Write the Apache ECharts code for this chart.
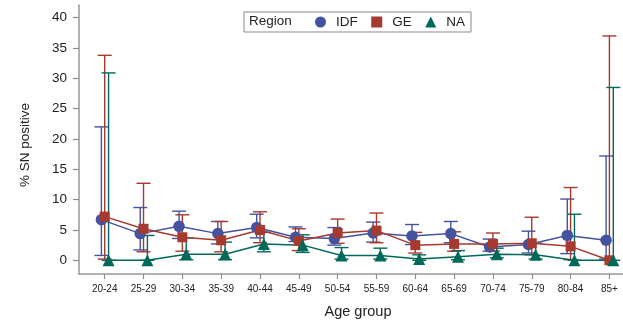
<!DOCTYPE html>
<html>
<head>
<meta charset="utf-8">
<script src="https://cdn.jsdelivr.net/npm/echarts@6/dist/echarts.min.js"></script>
<style>
  html, body { margin: 0; padding: 0; background: #fff; }
  #main { width: 623px; height: 322px; }
</style>
</head>
<body>
<div id="main"></div>
<script>
// age groups on the x axis
const ageGroups = ['20-24', '25-29', '30-34', '35-39', '40-44', '45-49', '50-54',
                   '55-59', '60-64', '65-69', '70-74', '75-79', '80-84', '85+'];
const yTicks = [0, 5, 10, 15, 20, 25, 30, 35, 40];

// % SN positive with 95% CI, per region
const idfPct  = [6.7, 4.4, 5.6, 4.4, 5.4, 3.8, 3.6, 4.5, 4.0, 4.4, 2.2, 2.6, 4.1, 3.3];
const idfLow  = [0.8, 1.7, 3.6, 2.7, 3.7, 3.1, 2.5, 3.0, 2.6, 2.9, 1.5, 1.2, 1.1, 0.2];
const idfHigh = [22.0, 8.7, 8.1, 6.4, 7.6, 5.5, 5.4, 6.3, 5.9, 6.4, 3.5, 4.8, 10.1, 17.2];

const gePct  = [7.2, 5.2, 3.8, 3.3, 5.0, 3.2, 4.5, 4.9, 2.5, 2.7, 2.7, 2.8, 2.3, 0.0];
const geLow  = [0.2, 1.4, 1.5, 1.4, 2.9, 1.6, 2.8, 2.9, 1.2, 1.5, 1.5, 0.9, 0.1, 0.0];
const geHigh = [33.8, 12.7, 7.5, 6.4, 8.0, 5.2, 6.8, 7.8, 4.6, 4.7, 4.5, 7.1, 12.0, 37.0];

const naPct  = [0.0, 0.0, 1.0, 1.0, 2.7, 2.5, 0.8, 0.8, 0.2, 0.6, 1.0, 0.9, 0.0, 0.0];
const naLow  = [0.0, 0.0, 0.1, 0.1, 1.4, 1.3, 0.2, 0.2, 0.0, 0.1, 0.4, 0.2, 0.0, 0.0];
const naHigh = [30.9, 4.1, 3.7, 3.0, 4.6, 4.2, 2.1, 2.0, 0.9, 1.6, 2.0, 2.8, 7.6, 28.5];

const FONT = 'Liberation Sans, Arial, sans-serif';

const regions = [
  { name: 'IDF', color: '#44539f', symbol: 'circle',   size: 11.5, dx: -0.085, pct: idfPct, low: idfLow, high: idfHigh },
  { name: 'GE',  color: '#a63a2e', symbol: 'rect',     size: 10,   dx: 0,      pct: gePct,  low: geLow,  high: geHigh },
  { name: 'NA',  color: '#00695a', symbol: 'triangle', size: 12,   dx: 0.1,    pct: naPct,  low: naLow,  high: naHigh }
];

// error bars: vertical line with caps
function errorBar(color) {
  return function (params, api) {
    const top = api.coord([api.value(0), api.value(2)]);
    const bot = api.coord([api.value(0), api.value(1)]);
    const hw = 7;
    const style = { stroke: color, lineWidth: 1.4 };
    return {
      type: 'group',
      children: [
        { type: 'line', shape: { x1: top[0], y1: top[1], x2: bot[0], y2: bot[1] }, style: style },
        { type: 'line', shape: { x1: top[0] - hw, y1: top[1], x2: top[0] + hw, y2: top[1] }, style: style },
        { type: 'line', shape: { x1: bot[0] - hw, y1: bot[1], x2: bot[0] + hw, y2: bot[1] }, style: style }
      ]
    };
  };
}

const series = [];
regions.forEach(function (r) {
  series.push({
    name: r.name + ' CI',
    type: 'custom',
    renderItem: errorBar(r.color),
    data: ageGroups.map(function (g, i) { return [i + r.dx, r.low[i], r.high[i]]; }),
    z: 2
  });
});
regions.forEach(function (r) {
  series.push({
    name: r.name,
    type: 'line',
    symbol: r.symbol,
    symbolSize: r.size,
    itemStyle: { color: r.color },
    lineStyle: { color: r.color, width: 1.5 },
    data: ageGroups.map(function (g, i) { return [i + r.dx, r.pct[i]]; }),
    z: 3
  });
});

const xTickVals = ageGroups.map(function (g, i) { return i; });

const myChart = echarts.init(document.getElementById('main'));
const option = {
  animation: false,
  textStyle: { fontFamily: FONT },
  grid: { left: 79, right: 0, top: 5, bottom: 48 },
  xAxis: {
    type: 'value',
    min: -0.662,
    max: 13.35,
    axisLine: { show: true, onZero: false, lineStyle: { color: '#999', width: 1.5 } },
    axisTick: { show: true, length: 5, lineStyle: { color: '#8c8c8c', width: 1.2 }, customValues: xTickVals },
    axisLabel: {
      color: '#222', fontSize: 10, margin: 10,
      customValues: xTickVals,
      formatter: function (v) { return ageGroups[Math.round(v)]; }
    },
    splitLine: { show: false }
  },
  yAxis: {
    type: 'value',
    min: -2.26,
    max: 42.1,
    axisLine: { show: true, onZero: false, lineStyle: { color: '#999', width: 1.5 } },
    axisTick: { show: true, length: 6, lineStyle: { color: '#8c8c8c', width: 1.2 }, customValues: yTicks },
    axisLabel: { color: '#222', fontSize: 13.5, margin: 12, customValues: yTicks },
    splitLine: { show: false }
  },
  legend: {
    left: 244,
    top: 12,
    orient: 'horizontal',
    padding: [3, 6, 3, 71],
    borderColor: '#8a8a8a',
    borderWidth: 1,
    itemWidth: 11,
    itemHeight: 11,
    itemGap: 13.5,
    textStyle: { color: '#222', fontSize: 13.5, fontFamily: FONT, padding: [0, 0, 0, 5] },
    data: [
      { name: 'IDF', icon: 'circle' },
      { name: 'GE', icon: 'rect' },
      { name: 'NA', icon: 'triangle' }
    ]
  },
  graphic: [
    { type: 'text', left: 249, top: 14, z: 100,
      style: { text: 'Region', fontSize: 13.5, fill: '#222', fontFamily: FONT } },
    { type: 'text', x: 25, y: 145, rotation: Math.PI / 2,
      style: { text: '% SN positive', fontSize: 13.5, fill: '#222', fontFamily: FONT, align: 'center', verticalAlign: 'middle' } },
    { type: 'text', x: 358, y: 311.5,
      style: { text: 'Age group', fontSize: 14.5, fill: '#222', fontFamily: FONT, align: 'center', verticalAlign: 'middle' } }
  ],
  series: series
};
myChart.setOption(option);
</script>
</body>
</html>
